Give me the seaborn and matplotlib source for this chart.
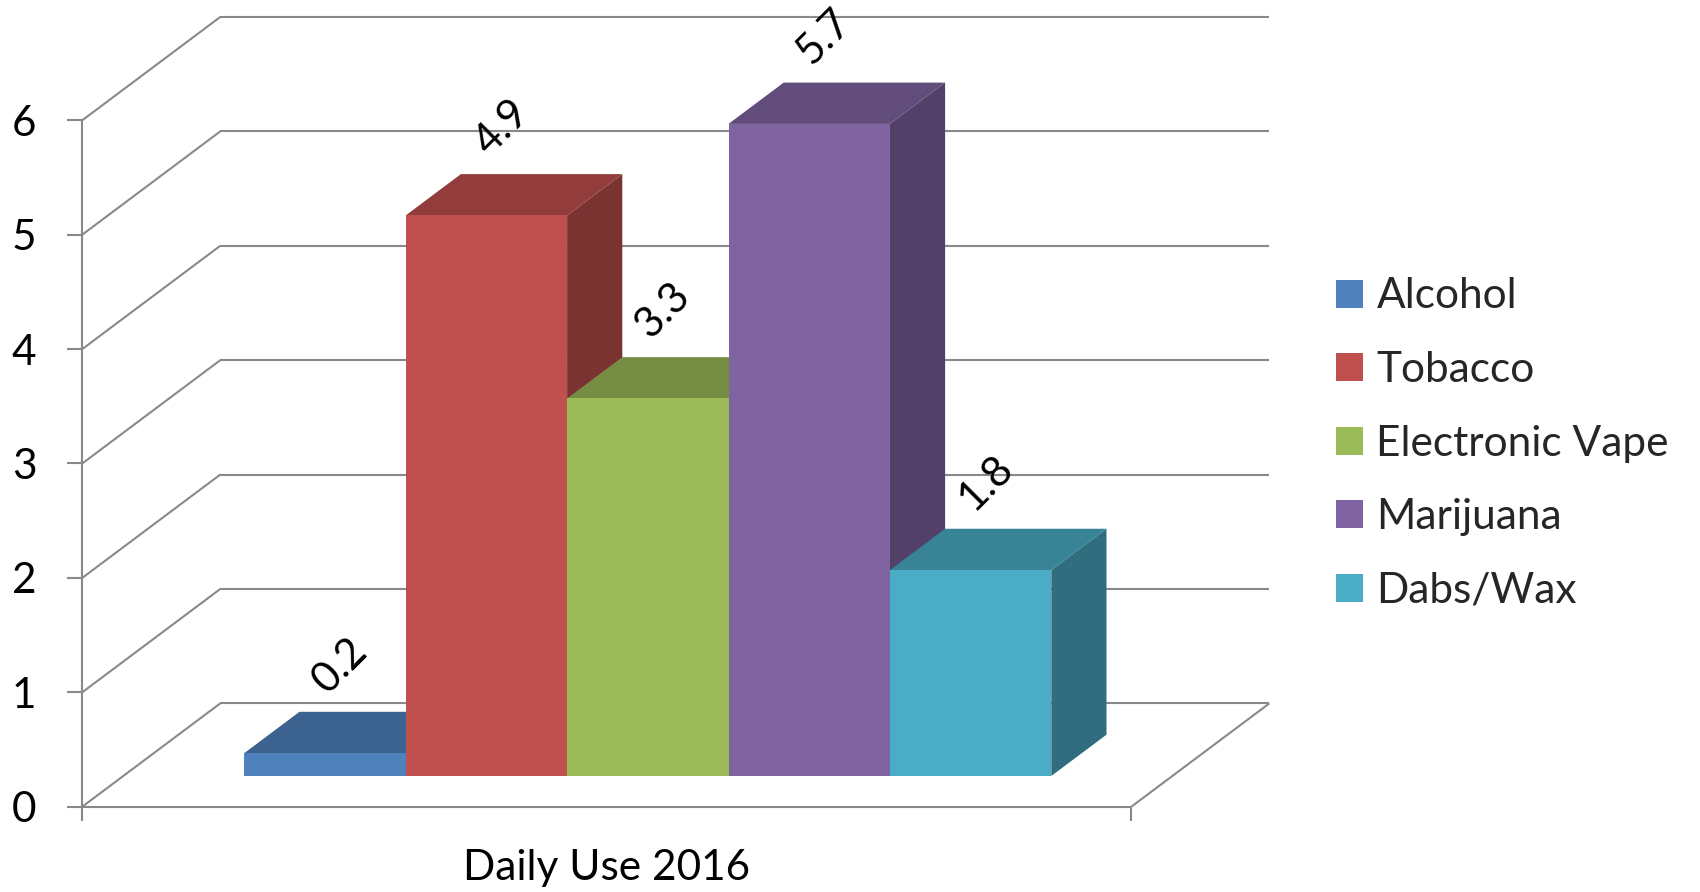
import numpy as np
import pandas as pd
import matplotlib.pyplot as plt
import seaborn as sns
from matplotlib.patches import Polygon
from matplotlib.colors import to_rgb

# data
group = 'Daily Use 2016'
substances = ['Alcohol', 'Tobacco', 'Electronic Vape', 'Marijuana', 'Dabs/Wax']
values = [0.2, 4.9, 3.3, 5.7, 1.8]
colors = ['#4F81BD', '#C0504D', '#9BBB59', '#8064A2', '#4BACC6']
y_ticks = [0, 1, 2, 3, 4, 5, 6]

df = pd.DataFrame({'group': [group] * len(substances),
                   'substance': substances,
                   'value': values})

sns.set_theme(style='white')
plt.rcParams['font.family'] = ['Lato', 'DejaVu Sans']
FS = 30.5

fig = plt.figure(figsize=(17, 8.92), dpi=100)
ax = fig.add_axes([0, 0, 1, 1])

# fake 3d: depth vector in data units, z=0 is the bars' front plane
DX, DY = 0.171, 0.903
z_front, z_back, z_bar = -0.297, 0.703, 0.40
half = 0.65          # half width of the floor
grid_c = '#898989'


def proj(x, y, z):
    return x + z * DX, y + z * DY


def seg(p, q, **kw):
    ax.plot([p[0], q[0]], [p[1], q[1]], color=grid_c, lw=1.5,
            solid_capstyle='butt', zorder=1, **kw)


sns.barplot(df, x='group', y='value', hue='substance', palette=colors,
            width=1, saturation=1, errorbar=None, ax=ax, zorder=3,
            linewidth=0, edgecolor='none')

bars = list(ax.patches)
for p, v in zip(bars, values):
    x0, w, h = p.get_x(), p.get_width(), p.get_height()
    rgb = np.array(to_rgb(p.get_facecolor()))
    side = [proj(x0 + w, 0, 0), proj(x0 + w, 0, z_bar),
            proj(x0 + w, h, z_bar), proj(x0 + w, h, 0)]
    top = [proj(x0, h, 0), proj(x0 + w, h, 0),
           proj(x0 + w, h, z_bar), proj(x0, h, z_bar)]
    ax.add_patch(Polygon(side, closed=True, fc=rgb * 0.64, ec='none', zorder=2))
    ax.add_patch(Polygon(top, closed=True, fc=rgb * 0.76, ec='none', zorder=2))
    ax.annotate(f'{v:.1f}', xy=(x0 + w / 2, h), xytext=(11, 63),
                textcoords='offset points', rotation=45,
                rotation_mode='anchor', ha='center', va='center',
                fontsize=FS, color='black', zorder=5)

# walls and grid
for y in y_ticks:
    seg(proj(-half, y, z_front), proj(-half, y, z_back))
    seg(proj(-half, y, z_back), proj(half, y, z_back))
    fx, fy = proj(-half, y, z_front)
    seg((fx - 15 / 807, fy), (fx, fy))
    ax.annotate(str(y), xy=(fx, fy), xytext=(-33, 0), textcoords='offset points',
                ha='right', va='center_baseline', fontsize=FS, color='black')

seg(proj(-half, -0.122, z_front), proj(-half, 6, z_front))
seg(proj(-half, 0, z_front), proj(half, 0, z_front))
seg(proj(half, 0, z_front), proj(half, -0.122, z_front))
seg(proj(half, 0, z_front), proj(half, 0, z_back))

ax.annotate(group, xy=proj(0, 0, z_front), xytext=(0, -44),
            textcoords='offset points', ha='center', va='center',
            fontsize=FS, color='black')

ax.set_xlim(-0.80273, 1.30384)
ax.set_ylim(-1.01399, 6.78322)
ax.set_axis_off()

sns.move_legend(ax, 'center left', bbox_to_anchor=(0.786, 0.5027),
                bbox_transform=fig.transFigure, frameon=False, title=None,
                fontsize=FS, handlelength=0.64, handleheight=0.64,
                handletextpad=0.31, labelspacing=0.84,
                borderpad=0, borderaxespad=0)

fig.savefig('out.png', dpi=100, facecolor='white')
